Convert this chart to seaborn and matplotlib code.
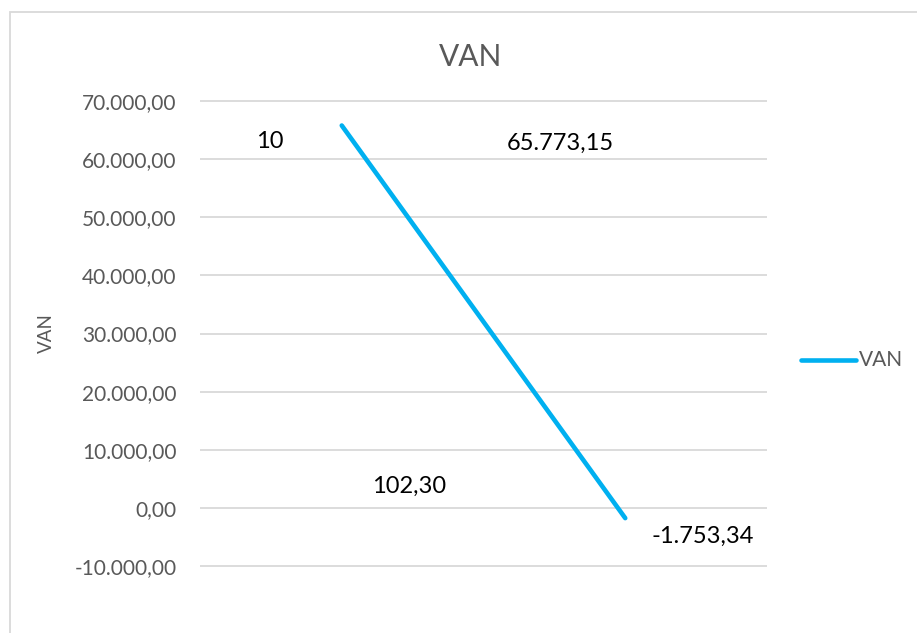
import matplotlib
matplotlib.use("Agg")
import matplotlib.pyplot as plt
import matplotlib.ticker as mticker
from matplotlib.patches import Rectangle
import seaborn as sns
import pandas as pd

# ---- data ----
categories = ["10", "102,30"]
van_values = [65773.15, -1753.34]
value_labels = ["65.773,15", "-1.753,34"]
series_name = "VAN"
title = "VAN"
y_label = "VAN"

sns.set_theme(style="white")
plt.rcParams["font.family"] = ["Lato", "DejaVu Sans"]

df = pd.DataFrame({"tasa": categories, "van": van_values, "serie": series_name})

W, H = 917, 633
fig = plt.figure(figsize=(W / 100, H / 100), dpi=100)
ax = fig.add_axes([200 / W, 1 - 569 / H, 567 / W, (569 - 98) / H])

sns.lineplot(data=df, x="tasa", y="van", hue="serie", palette=["#00B0F0"],
             linewidth=3.3, ax=ax, legend=False, solid_capstyle="round")

ax.set_xlim(-0.5, 1.5)
ax.set_ylim(-10500, 70500)
ax.set_yticks(range(-10000, 70001, 10000))


def euro_fmt(v, pos):
    s = f"{v:,.2f}"
    return s.replace(",", "X").replace(".", ",").replace("X", ".")


ax.yaxis.set_major_formatter(mticker.FuncFormatter(euro_fmt))
ax.tick_params(axis="y", labelsize=15, colors="#595959", length=0, pad=17)
ax.set_xticks([])
ax.set_xlabel("")
ax.set_ylabel(y_label, fontsize=13.5, color="#595959", labelpad=14)
ax.yaxis.grid(True, color="#D9D9D9", linewidth=1.3)
for s in ax.spines.values():
    s.set_visible(False)

# data labels: category name + value
label_kw = dict(textcoords="offset pixels", ha="center", va="baseline",
                fontsize=17, color="black")
for i, (cat, val, lab) in enumerate(zip(categories, van_values, value_labels)):
    if i == 0:
        ax.annotate(cat, (i, val), xytext=(-72, -23), **label_kw)
        ax.annotate(lab, (i, val), xytext=(219, -24), **label_kw)
    else:
        ax.annotate(cat, (i, val), xytext=(-216, 25), **label_kw)
        ax.annotate(lab, (i, val), xytext=(77, -25), **label_kw)

fig.text(471 / W, 1 - 66 / H, title, ha="center", va="baseline",
         fontsize=21.5, color="#595959")

# legend
fig.lines.append(plt.Line2D([801 / W, 856 / W], [1 - 360 / H, 1 - 360 / H],
                            transform=fig.transFigure, color="#00B0F0",
                            linewidth=3.3, solid_capstyle="round"))
fig.text(859 / W, 1 - 360 / H, series_name, ha="left", va="center",
         fontsize=15, color="#595959")

# chart frame
fig.patches.append(Rectangle((10 / W, -0.1), 1.2, 1 - 12 / H + 0.1,
                             transform=fig.transFigure, fill=False,
                             edgecolor="#D9D9D9", linewidth=1.3))

fig.savefig("out.png", dpi=100)
